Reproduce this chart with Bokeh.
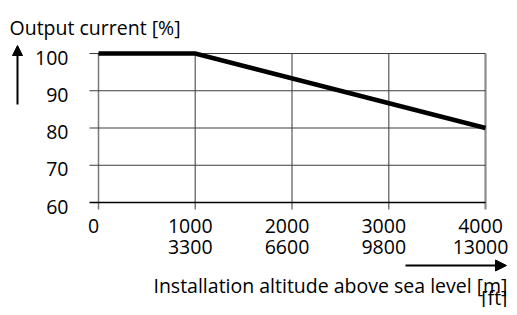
from bokeh.plotting import figure
from bokeh.models import Range1d, Arrow, NormalHead
from bokeh.core.properties import value
from bokeh.embed import file_html
from bokeh.resources import INLINE

# ---- data ----
altitude_m = [0, 1000, 4000]
current_pct = [100, 100, 80]
x_ticks = [0, 1000, 2000, 3000, 4000]
x_labels_m = ["0", "1000", "2000", "3000", "4000"]
x_ticks_ft = [1000, 2000, 3000, 4000]
x_labels_ft = ["3300", "6600", "9800", "13000"]
y_ticks = [60, 70, 80, 90, 100]
y_labels = ["60", "70", "80", "90", "100"]
y_title = "Output current [%]"
x_title = "Installation altitude above sea level [m]"
x_title2 = "[ft]"

# ---- layout (figure pixel coordinates) ----
W, H = 509, 307
PX0, PX1 = 98, 485      # pixel of x=0 and x=4000
PY_TOP, PY_BOT = 53, 202  # pixel of y=100 and y=60
XMIN, XMAX = x_ticks[0], x_ticks[-1]
YMIN, YMAX = y_ticks[0], y_ticks[-1]
k = (PX1 - PX0) / (XMAX - XMIN)
m = (PY_BOT - PY_TOP) / (YMAX - YMIN)

def px2x(px):
    return XMIN + (px - PX0) / k

def py2y(py):
    return YMAX - (py - PY_TOP) / m

p = figure(width=W, height=H, output_backend="svg", toolbar_location=None,
           x_range=Range1d(px2x(0), px2x(W)), y_range=Range1d(py2y(H), py2y(0)),
           x_axis_location=None, y_axis_location=None,
           min_border=0, min_border_left=0, min_border_right=0,
           min_border_top=0, min_border_bottom=0)
p.grid.visible = False
p.outline_line_color = None
p.background_fill_color = "white"
p.border_fill_color = "white"

FONT = value("Open Sans")
FS = value("19.5px")

# vertical grid lines (extend below the 60 line as ticks)
v_bottom = py2y(209)
p.segment(x0=x_ticks[:-1], y0=[YMAX] * (len(x_ticks) - 1),
          x1=x_ticks[:-1], y1=[v_bottom] * (len(x_ticks) - 1),
          line_color="#7a7a7a", line_width=1.5)
p.segment(x0=[x_ticks[-1]], y0=[YMAX], x1=[x_ticks[-1]], y1=[v_bottom],
          line_color="#8c8c8c", line_width=2.2)

# horizontal grid lines (extend left of x=0 as ticks)
h_left = px2x(89)
p.segment(x0=[h_left] * (len(y_ticks) - 1), y0=y_ticks[1:],
          x1=[XMAX] * (len(y_ticks) - 1), y1=y_ticks[1:],
          line_color="#3c3c3c", line_width=1.2)
p.segment(x0=[h_left], y0=[y_ticks[0]], x1=[XMAX], y1=[y_ticks[0]],
          line_color="black", line_width=1.5)

# derating curve
p.line(altitude_m, current_pct, line_color="black", line_width=4.5,
       line_join="miter")

# y tick labels
p.text(x=[XMIN] * len(y_ticks), y=y_ticks, text=y_labels,
       x_offset=-30, y_offset=4, text_align="right", text_baseline="middle",
       text_font=FONT, text_font_size=FS, text_color="black")

# x tick labels (two lines: metres and feet)
p.text(x=x_ticks, y=[py2y(225.5)] * len(x_ticks), text=x_labels_m,
       x_offset=-5, text_align="center", text_baseline="middle",
       text_font=FONT, text_font_size=FS, text_color="black")
p.text(x=x_ticks_ft, y=[py2y(246.5)] * len(x_ticks_ft), text=x_labels_ft,
       x_offset=-5, text_align="center", text_baseline="middle",
       text_font=FONT, text_font_size=FS, text_color="black")

# y axis title and arrow
p.text(x=[px2x(9)], y=[py2y(27)], text=[y_title], text_align="left",
       text_baseline="alphabetic", text_font=FONT, text_font_size=FS,
       text_color="black")
p.add_layout(Arrow(end=NormalHead(size=10, fill_color="black", line_color="black"),
                   x_start=px2x(17), y_start=py2y(104), x_end=px2x(17), y_end=py2y(45),
                   line_color="black", line_width=2))

# x axis title and arrow
p.add_layout(Arrow(end=NormalHead(size=11, fill_color="black", line_color="black"),
                   x_start=px2x(405), y_start=py2y(265), x_end=px2x(506), y_end=py2y(265),
                   line_color="black", line_width=2))
p.text(x=[px2x(507)], y=[py2y(285)], text=[x_title], text_align="right",
       text_baseline="alphabetic", text_font=FONT, text_font_size=FS,
       text_color="black")
p.text(x=[px2x(507)], y=[py2y(297)], text=[x_title2], text_align="right",
       text_baseline="alphabetic", text_font=FONT, text_font_size=FS,
       text_color="black")

open("out.html", "w").write(file_html(p, INLINE))
